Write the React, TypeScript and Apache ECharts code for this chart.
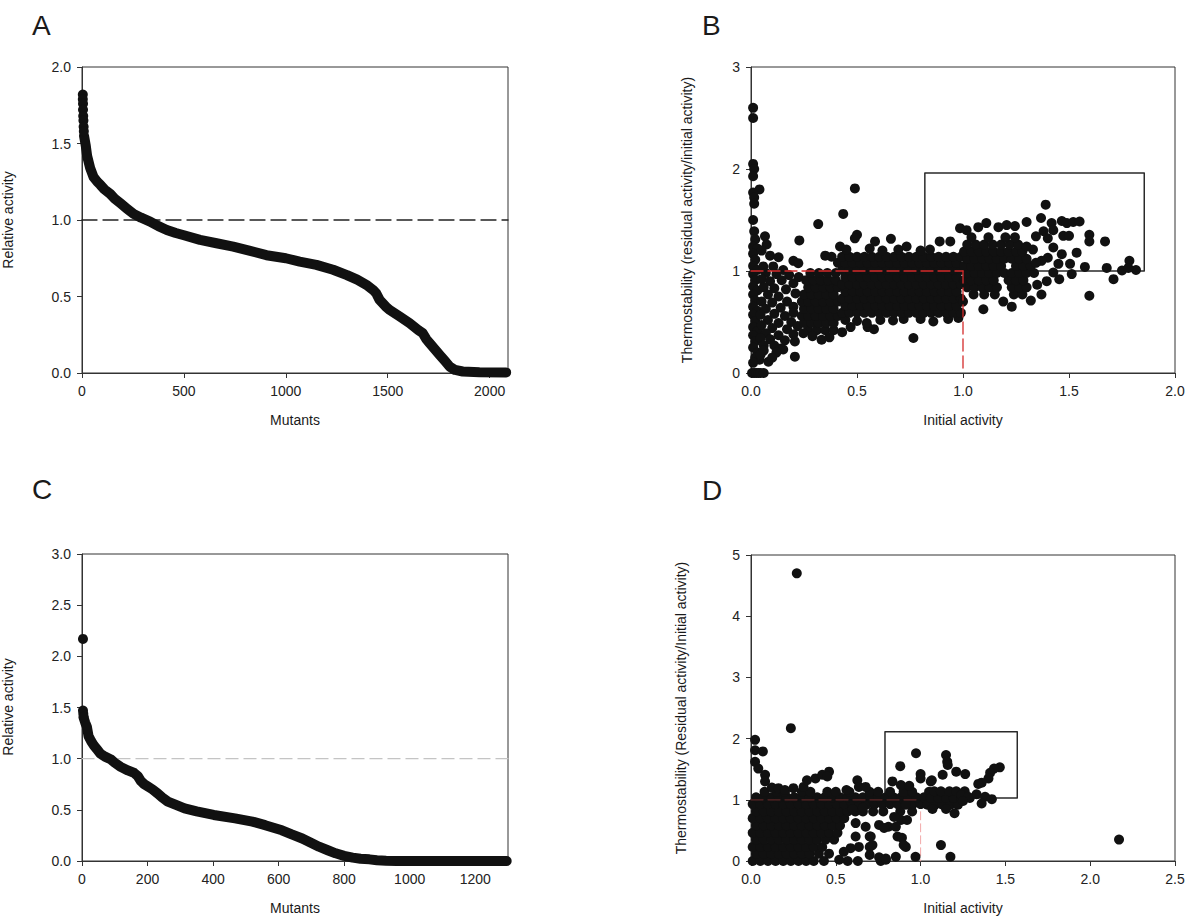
import React, { useEffect, useRef } from "react";
import * as echarts from "echarts";

// ---------- Panel A: sorted relative activity (2090 mutants) ----------
const aTopDots = [[4,1.82],[4,1.79],[5,1.76],[5,1.72],[6,1.68],[7,1.65],[8,1.61],[9,1.58]];
const aCurve = [[10,1.55],[18,1.49],[25,1.42],[40,1.34],[57,1.28],[75,1.25],[90,1.23],[110,1.2],[139,1.17],[160,1.14],[188,1.11],[220,1.075],[253,1.04],[290,1.015],[334,0.99],[375,0.96],[416,0.935],[460,0.915],[500,0.9],[579,0.87],[660,0.848],[742,0.826],[820,0.8],[905,0.77],[1000,0.75],[1068,0.728],[1150,0.707],[1232,0.675],[1300,0.64],[1350,0.61],[1395,0.576],[1428,0.543],[1444,0.52],[1460,0.478],[1493,0.43],[1509,0.413],[1558,0.37],[1607,0.326],[1650,0.28],[1672,0.26],[1690,0.22],[1705,0.196],[1754,0.12],[1780,0.08],[1803,0.043],[1830,0.02],[1868,0.01],[1950,0.005],[2081,0.004]];

// ---------- Panel C: sorted relative activity (1300 mutants) ----------
const cTopDots = [[3,2.17],[3,1.47],[4,1.44],[5,1.41]];
const cCurve = [[5,1.4],[10,1.35],[15,1.31],[20,1.22],[28,1.17],[36,1.13],[46,1.09],[56,1.05],[70,1.02],[87,0.995],[100,0.96],[118,0.92],[140,0.885],[159,0.86],[170,0.83],[180,0.78],[190,0.75],[200,0.73],[215,0.7],[231,0.66],[245,0.62],[262,0.58],[285,0.55],[313,0.515],[350,0.485],[402,0.45],[467,0.417],[520,0.385],[559,0.35],[610,0.3],[640,0.26],[672,0.22],[700,0.175],[723,0.14],[750,0.105],[774,0.075],[800,0.05],[826,0.033],[850,0.022],[877,0.016],[900,0.008],[928,0.003],[960,0],[1296,0]];

// ---------- Panel B: initial activity vs thermostability ----------
const bColumn = [[0.01,2.6],[0.01,2.5],[0.01,2.05],[0.015,2.0],[0.01,1.93],[0.04,1.8],[0.01,1.77],[0.015,1.72],[0.015,1.66],[0.01,1.5],[0.015,1.39],[0.02,1.31],[0.01,1.24],[0.03,1.22],[0.01,1.17],[0.02,1.11],[0.01,1.05],[0.03,1.01],[0.01,0.97],[0.02,0.91],[0.01,0.85],[0.03,0.81],[0.01,0.77],[0.02,0.71],[0.01,0.65],[0.03,0.61],[0.01,0.57],[0.02,0.51],[0.01,0.45],[0.03,0.41],[0.01,0.37],[0.02,0.31],[0.01,0.25],[0.03,0.2],[0.02,0.15],[0.04,0.13],[0.01,0.1],[0.005,0],[0.015,0],[0.025,0],[0.035,0],[0.045,0],[0.06,0]];
const bLeft = [[0.066,1.34],[0.074,1.26],[0.228,1.3],[0.05,1.2],[0.09,1.15],[0.13,1.135],[0.2,1.1],[0.223,1.077],[0.058,1.045],[0.105,1.045],[0.152,1.01],[0.07,0.98],[0.12,0.97],[0.18,0.96],[0.05,0.92],[0.09,0.9],[0.145,0.91],[0.2,0.88],[0.225,0.94],[0.06,0.84],[0.11,0.83],[0.165,0.82],[0.08,0.77],[0.21,0.78],[0.13,0.75],[0.05,0.7],[0.1,0.69],[0.17,0.7],[0.07,0.63],[0.14,0.64],[0.2,0.65],[0.2,0.59],[0.045,0.57],[0.11,0.58],[0.16,0.56],[0.08,0.52],[0.13,0.49],[0.19,0.5],[0.05,0.47],[0.1,0.44],[0.17,0.43],[0.22,0.46],[0.07,0.39],[0.13,0.37],[0.2,0.38],[0.045,0.34],[0.09,0.33],[0.16,0.32],[0.207,0.31],[0.06,0.27],[0.11,0.27],[0.14,0.24],[0.06,0.22],[0.152,0.23],[0.12,0.2],[0.045,0.18],[0.207,0.16],[0.082,0.11],[0.1,0.15]];
const bCluster = [[0.27,0.42],[0.31,0.42],[0.35,0.42],[0.39,0.42],[0.25,0.49],[0.285,0.49],[0.32,0.49],[0.355,0.49],[0.39,0.49],[0.24,0.56],[0.27,0.56],[0.305,0.56],[0.34,0.56],[0.375,0.56],[0.41,0.56],[0.25,0.63],[0.285,0.63],[0.32,0.63],[0.355,0.63],[0.39,0.63],[0.24,0.7],[0.27,0.7],[0.305,0.7],[0.34,0.7],[0.375,0.7],[0.41,0.7],[0.25,0.77],[0.285,0.77],[0.32,0.77],[0.355,0.77],[0.39,0.77],[0.27,0.84],[0.305,0.84],[0.34,0.84],[0.375,0.84],[0.41,0.84],[0.26,0.91],[0.295,0.91],[0.33,0.91],[0.365,0.91],[0.4,0.91],[0.28,0.98],[0.32,0.98],[0.36,0.98],[0.4,0.98],[0.333,0.326],[0.247,0.39],[0.29,0.36],[0.37,0.35],[0.43,0.4]];
const bBand = [
[0.47,0.45],[0.55,0.45],[0.58,0.43],
[0.445,0.52],[0.5,0.51],[0.546,0.49],[0.61,0.52],[0.67,0.515],[0.72,0.53],[0.8,0.53],[0.86,0.505],[0.93,0.53],[0.978,0.54],
[0.43,0.59],[0.465,0.59],[0.5,0.59],[0.535,0.59],[0.57,0.59],[0.605,0.59],[0.64,0.59],[0.675,0.59],[0.71,0.59],[0.745,0.59],[0.78,0.59],[0.815,0.59],[0.85,0.59],[0.885,0.59],[0.92,0.59],[0.955,0.59],[0.99,0.59],
[0.445,0.66],[0.48,0.66],[0.515,0.66],[0.55,0.66],[0.585,0.66],[0.62,0.66],[0.655,0.66],[0.69,0.66],[0.725,0.66],[0.76,0.66],[0.795,0.66],[0.83,0.66],[0.865,0.66],[0.9,0.66],[0.935,0.66],[0.97,0.66],
[0.43,0.73],[0.465,0.73],[0.5,0.73],[0.535,0.73],[0.57,0.73],[0.605,0.73],[0.64,0.73],[0.675,0.73],[0.71,0.73],[0.745,0.73],[0.78,0.73],[0.815,0.73],[0.85,0.73],[0.885,0.73],[0.92,0.73],[0.955,0.73],[0.99,0.73],
[0.445,0.8],[0.48,0.8],[0.515,0.8],[0.55,0.8],[0.585,0.8],[0.62,0.8],[0.655,0.8],[0.69,0.8],[0.725,0.8],[0.76,0.8],[0.795,0.8],[0.83,0.8],[0.865,0.8],[0.9,0.8],[0.935,0.8],[0.97,0.8],
[0.43,0.87],[0.465,0.87],[0.5,0.87],[0.535,0.87],[0.57,0.87],[0.605,0.87],[0.64,0.87],[0.675,0.87],[0.71,0.87],[0.745,0.87],[0.78,0.87],[0.815,0.87],[0.85,0.87],[0.885,0.87],[0.92,0.87],[0.955,0.87],[0.99,0.87],
[0.445,0.94],[0.48,0.94],[0.515,0.94],[0.55,0.94],[0.585,0.94],[0.62,0.94],[0.655,0.94],[0.69,0.94],[0.725,0.94],[0.76,0.94],[0.795,0.94],[0.83,0.94],[0.865,0.94],[0.9,0.94],[0.935,0.94],[0.97,0.94],
[0.43,1.01],[0.465,1.01],[0.5,1.01],[0.535,1.01],[0.57,1.01],[0.605,1.01],[0.64,1.01],[0.675,1.01],[0.71,1.01],[0.745,1.01],[0.78,1.01],[0.815,1.01],[0.85,1.01],[0.885,1.01],[0.92,1.01],[0.955,1.01],[0.99,1.01],
[0.41,1.08],[0.445,1.08],[0.48,1.08],[0.515,1.08],[0.55,1.08],[0.585,1.08],[0.62,1.08],[0.655,1.08],[0.69,1.08],[0.725,1.08],[0.76,1.08],[0.795,1.08],[0.83,1.08],[0.865,1.08],[0.9,1.08],[0.935,1.08],[0.97,1.08],
[0.38,1.14],[0.43,1.14],[0.465,1.14],[0.5,1.14],[0.535,1.14],[0.57,1.14],[0.605,1.14],[0.64,1.14],[0.675,1.14],[0.71,1.14],[0.745,1.14],[0.78,1.14],[0.815,1.14],[0.85,1.14],[0.885,1.14],[0.92,1.14],[0.955,1.14],[0.99,1.14],
[0.35,1.15],[0.42,1.24],[0.5,1.355],[0.49,1.32],[0.45,1.21],[0.56,1.22],[0.585,1.29],[0.62,1.2],[0.66,1.315],[0.695,1.21],[0.734,1.24],[0.8,1.2],[0.844,1.21],[0.89,1.29],[0.94,1.29],[0.435,1.56],[0.49,1.81],[0.317,1.46],[0.766,0.343]];
const bRight = [
[1.0,0.7],[1.19,0.7],
[1.05,0.77],[1.1,0.77],[1.15,0.77],[1.24,0.77],[1.28,0.77],
[1.02,0.84],[1.055,0.84],[1.09,0.84],[1.125,0.84],[1.16,0.84],[1.23,0.84],[1.265,0.84],[1.3,0.84],
[1.005,0.91],[1.04,0.91],[1.075,0.91],[1.11,0.91],[1.145,0.91],[1.215,0.91],[1.25,0.91],[1.285,0.91],
[1.02,0.98],[1.055,0.98],[1.09,0.98],[1.125,0.98],[1.16,0.98],[1.195,0.98],[1.23,0.98],[1.265,0.98],[1.3,0.98],[1.335,0.98],
[1.005,1.05],[1.04,1.05],[1.075,1.05],[1.11,1.05],[1.145,1.05],[1.18,1.05],[1.25,1.05],[1.285,1.05],[1.32,1.05],
[1.02,1.12],[1.055,1.12],[1.09,1.12],[1.125,1.12],[1.16,1.12],[1.195,1.12],[1.23,1.12],[1.265,1.12],[1.3,1.12],
[1.005,1.19],[1.04,1.19],[1.075,1.19],[1.11,1.19],[1.145,1.19],[1.18,1.19],[1.215,1.19],[1.25,1.19],[1.28,1.19],
[1.02,1.26],[1.06,1.26],[1.1,1.26],[1.14,1.26],[1.18,1.26],[1.22,1.26],[1.26,1.26],
[1.04,1.33],[1.12,1.33],[1.2,1.33],[1.245,1.33]];
const bSparse = [[0.986,1.42],[1.017,1.4],[1.072,1.43],[1.11,1.47],[1.167,1.43],[1.206,1.45],[1.245,1.44],[1.3,1.48],[1.368,1.52],[1.39,1.65],[1.418,1.47],[1.466,1.49],[1.49,1.47],[1.52,1.48],[1.55,1.485],[1.426,1.4],[1.38,1.39],[1.344,1.34],[1.4,1.32],[1.426,1.23],[1.473,1.345],[1.5,1.345],[1.596,1.355],[1.596,1.29],[1.67,1.29],[1.536,1.18],[1.466,1.165],[1.4,1.13],[1.37,1.1],[1.45,1.07],[1.505,1.07],[1.575,1.04],[1.678,1.03],[1.785,1.1],[1.816,1.01],[1.75,1.005],[1.78,1.03],[1.426,0.985],[1.513,0.97],[1.454,0.92],[1.71,0.92],[1.395,0.9],[1.35,0.865],[1.37,0.77],[1.596,0.757],[1.32,0.71],[1.344,1.08],[1.33,1.21],[1.3,1.24],[1.096,0.625],[1.23,0.65]];

// ---------- Panel D: initial activity vs thermostability ----------
const dDense = [
[0.01,0],[0.055,0],[0.1,0],[0.145,0],[0.19,0],[0.235,0],[0.28,0],[0.325,0],[0.37,0],[0.43,0],
[0.03,0.12],[0.075,0.12],[0.12,0.12],[0.165,0.12],[0.21,0.12],[0.255,0.12],[0.3,0.12],[0.345,0.12],[0.4,0.12],[0.46,0.12],
[0.01,0.23],[0.055,0.23],[0.1,0.23],[0.145,0.23],[0.19,0.23],[0.235,0.23],[0.28,0.23],[0.325,0.23],[0.37,0.23],[0.42,0.23],
[0.03,0.35],[0.075,0.35],[0.12,0.35],[0.165,0.35],[0.21,0.35],[0.255,0.35],[0.3,0.35],[0.345,0.35],[0.39,0.35],[0.44,0.35],[0.49,0.35],
[0.01,0.46],[0.055,0.46],[0.1,0.46],[0.145,0.46],[0.19,0.46],[0.235,0.46],[0.28,0.46],[0.325,0.46],[0.37,0.46],[0.415,0.46],[0.46,0.46],[0.51,0.46],
[0.03,0.58],[0.075,0.58],[0.12,0.58],[0.165,0.58],[0.21,0.58],[0.255,0.58],[0.3,0.58],[0.345,0.58],[0.39,0.58],[0.435,0.58],[0.48,0.58],[0.525,0.58],
[0.01,0.7],[0.055,0.7],[0.1,0.7],[0.145,0.7],[0.19,0.7],[0.235,0.7],[0.28,0.7],[0.325,0.7],[0.37,0.7],[0.415,0.7],[0.46,0.7],[0.505,0.7],[0.55,0.7],
[0.03,0.81],[0.075,0.81],[0.12,0.81],[0.165,0.81],[0.21,0.81],[0.255,0.81],[0.3,0.81],[0.345,0.81],[0.39,0.81],[0.435,0.81],[0.48,0.81],[0.525,0.81],[0.57,0.81],[0.615,0.81],[0.66,0.81],[0.72,0.81],[0.78,0.81],[0.88,0.81],[0.95,0.81],
[0.01,0.93],[0.055,0.93],[0.1,0.93],[0.145,0.93],[0.19,0.93],[0.235,0.93],[0.28,0.93],[0.325,0.93],[0.37,0.93],[0.415,0.93],[0.46,0.93],[0.505,0.93],[0.55,0.93],[0.595,0.93],[0.64,0.93],[0.685,0.93],[0.73,0.93],[0.775,0.93],[0.82,0.93],[0.865,0.93],[0.91,0.93],[0.955,0.93],[1.0,0.93],
[0.03,1.04],[0.075,1.04],[0.12,1.04],[0.165,1.04],[0.21,1.04],[0.255,1.04],[0.3,1.04],[0.345,1.04],[0.39,1.04],[0.435,1.04],[0.48,1.04],[0.525,1.04],[0.57,1.04],[0.615,1.04],[0.66,1.04],[0.705,1.04],[0.75,1.04],[0.795,1.04],[0.84,1.04],[0.885,1.04],[0.93,1.04],[0.975,1.04],[1.02,1.04],
[0.08,1.13],[0.15,1.13],[0.2,1.13],[0.3,1.13],[0.35,1.13],[0.45,1.13],[0.5,1.13],[0.58,1.13],[0.7,1.13],[0.75,1.13],[0.82,1.13],[0.9,1.13],[0.95,1.13],[1.05,1.13]];
const dRight = [[1.04,0.92],[1.085,0.92],[1.13,0.92],[1.175,0.92],[1.22,0.92],[1.06,1.03],[1.105,1.03],[1.15,1.03],[1.195,1.03],[1.24,1.03],[1.29,1.03],[1.08,1.14],[1.12,1.14],[1.17,1.14],[1.21,1.14],[1.26,1.14],[1.07,0.85],[1.15,0.85]];
const dSparse = [[0.27,4.7],[0.235,2.17],[0.024,1.98],[0.024,1.81],[0.07,1.79],[0.024,1.62],[0.043,1.51],[0.083,1.41],[0.083,1.3],[0.123,1.2],[0.162,1.19],[0.2,1.16],[0.25,1.19],[0.31,1.21],[0.33,1.32],[0.38,1.35],[0.42,1.41],[0.46,1.46],[0.45,1.38],[0.627,1.32],[0.636,1.21],[0.676,1.21],[0.563,1.16],[0.617,0.4],[0.7,0.4],[0.7,0.23],[0.636,0.23],[0.587,0.21],[0.547,0.15],[0.7,0.1],[0.63,0.0],[0.57,0.0],[0.52,0.02],[0.617,0.62],[0.676,0.56],[0.6,0.85],[0.66,0.87],[0.755,0.59],[0.81,0.56],[0.864,0.4],[0.89,0.38],[0.913,0.23],[0.884,0.67],[0.92,0.67],[0.795,0.02],[0.765,0.0],[0.854,0.07],[0.97,0.07],[1.12,0.26],[1.176,0.07],[1.2,0.78],[0.973,1.76],[1.15,1.73],[1.157,1.62],[1.16,1.57],[0.88,1.55],[1.21,1.46],[1.263,1.42],[1.0,1.42],[1.0,1.35],[1.06,1.3],[1.13,1.41],[1.467,1.53],[1.433,1.51],[1.41,1.44],[1.4,1.35],[1.36,1.28],[1.34,1.26],[1.33,1.09],[1.38,1.05],[1.42,1.01],[0.834,1.3],[0.884,1.24],[0.933,1.23],[1.066,1.32],[0.854,0.56],[0.844,0.72],[0.913,0.92],[0.706,0.4],[0.716,0.26],[0.785,0.54],[0.755,0.06],[0.795,0.04],[1.24,1.08],[1.28,1.05],[1.25,0.98],[1.36,0.94],[2.17,0.35],[0.9,0.26]];

// Boxes
const bBox = [[0.82,1.0],[0.82,1.96],[1.855,1.96],[1.855,1.0],[0.82,1.0]];
const dBox = [[0.79,1.03],[0.79,2.11],[1.57,2.11],[1.57,1.03],[0.79,1.03]];

const FONT = "'Liberation Sans', Arial, sans-serif";
const DOT = "#111111";

export default function App() {
  const ref = useRef<HTMLDivElement>(null);
  useEffect(() => {
    if (!ref.current) return;
    const chart = echarts.init(ref.current, undefined, { renderer: "svg" });
    const axisBase = (grid: number, min: number, max: number, interval: number, fmt: (v: number) => string, hideMax: boolean) => ({
      type: "value", gridIndex: grid, min, max, interval,
      axisLine: { show: true, onZero: false, lineStyle: { color: "#333", width: 1 } },
      axisTick: { show: true, inside: false, length: 5, lineStyle: { color: "#333" } },
      splitLine: { show: false },
      axisLabel: { color: "#222", fontSize: 14, fontFamily: FONT, margin: 11, formatter: fmt, showMaxLabel: !hideMax },
    });
    const f0 = (v: number) => String(Math.round(v));
    const f1 = (v: number) => v.toFixed(1);
    const grids = [
      { left: 82, top: 67, width: 426, height: 306 },
      { left: 751, top: 67, width: 424, height: 306 },
      { left: 82, top: 554, width: 426, height: 307 },
      { left: 751, top: 555, width: 424, height: 306 },
    ].map((g) => ({ ...g, show: true, borderColor: "#333", borderWidth: 1, backgroundColor: "transparent" }));

    const scatter = (idx: number, data: number[][], size = 10) => ({
      type: "scatter", xAxisIndex: idx, yAxisIndex: idx, data, symbol: "circle", symbolSize: size,
      itemStyle: { color: DOT, opacity: 1 }, silent: true, z: 3,
    });
    const line = (idx: number, data: number[][], color: string, width: number, type: any, z: number) => ({
      type: "line", xAxisIndex: idx, yAxisIndex: idx, data, symbol: "none", silent: true, z,
      lineStyle: { color, width, type, cap: "round", join: "round" },
    });

    const text = (t: string, x: number, y: number, size: number, rot = 0, align = "center") => ({
      type: "text", x, y, rotation: rot,
      style: { text: t, fontSize: size, fontFamily: FONT, fill: "#1a1a1a", align, verticalAlign: "middle" },
    });

    chart.setOption({
      animation: false,
      backgroundColor: "#ffffff",
      grid: grids,
      xAxis: [
        axisBase(0, 0, 2090, 500, f0, true),
        axisBase(1, 0, 2, 0.5, f1, false),
        axisBase(2, 0, 1300, 200, f0, true),
        axisBase(3, 0, 2.5, 0.5, f1, false),
      ],
      yAxis: [
        axisBase(0, 0, 2, 0.5, f1, false),
        axisBase(1, 0, 3, 1, f0, false),
        axisBase(2, 0, 3, 0.5, f1, false),
        axisBase(3, 0, 5, 1, f0, false),
      ],
      series: [
        // A
        line(0, [[0, 1], [2090, 1]], "#222", 1.3, [15, 6], 2),
        { ...line(0, aCurve, DOT, 10, "solid", 3), clip: false },
        scatter(0, aTopDots, 10),
        // B
        line(1, bBox, "#2a2a2a", 1.5, "solid", 1),
        scatter(1, bColumn), scatter(1, bLeft), scatter(1, bCluster), scatter(1, bBand), scatter(1, bRight), scatter(1, bSparse),
        line(1, [[0, 1], [1, 1]], "#d42a2a", 1.3, [12, 5], 5),
        line(1, [[1, 1], [1, 0]], "#d42a2a", 1.3, [12, 5], 5),
        // C
        line(2, [[0, 1], [1300, 1]], "#c4c4c4", 1.3, [12, 6], 2),
        { ...line(2, cCurve, DOT, 10, "solid", 3), clip: false },
        scatter(2, cTopDots, 10),
        // D
        line(3, dBox, "#2a2a2a", 1.5, "solid", 1),
        line(3, [[1, 1], [1, 0]], "#f2a8a8", 1, [8, 4], 1),
        scatter(3, dDense), scatter(3, dRight), scatter(3, dSparse),
        line(3, [[0, 1], [1, 1]], "#5a2626", 1.3, [12, 5], 5),
      ],
      graphic: [
        text("A", 32, 25, 28, 0, "left"),
        text("B", 702, 25, 28, 0, "left"),
        text("C", 32, 489, 28, 0, "left"),
        text("D", 702, 490, 28, 0, "left"),
        text("Relative activity", 8, 220, 14, Math.PI / 2),
        text("Mutants", 295, 420, 14),
        text("Thermostability (residual activity/initial activity)", 687, 220, 14, Math.PI / 2),
        text("Initial activity", 963, 420, 14),
        text("Relative activity", 8, 707, 14, Math.PI / 2),
        text("Mutants", 295, 908, 14),
        text("Thermostability (Residual activity/Initial activity)", 681, 708, 14, Math.PI / 2),
        text("Initial activity", 963, 908, 14),
      ],
    });
    return () => chart.dispose();
  }, []);
  return <div ref={ref} style={{ position: "absolute", left: 0, top: 0, width: 1200, height: 918 }} />;
}
